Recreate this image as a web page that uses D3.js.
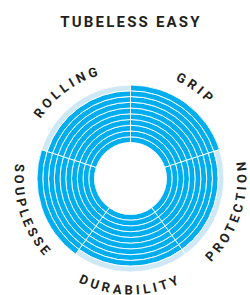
<!DOCTYPE html>
<html>
<head>
<meta charset="utf-8">
<script src="https://cdn.jsdelivr.net/npm/d3@7"></script>
<style>
  html, body { margin: 0; padding: 0; background: #fff; }
  svg { display: block; }
</style>
</head>
<body>
<svg id="chart" width="250" height="295"></svg>
<script>
const title = "TUBELESS EASY";
const categories = ["GRIP", "PROTECTION", "DURABILITY", "SOUPLESSE", "ROLLING"];
const values = [10, 9, 9, 10, 9];
const maxValue = 10;

const width = 250;
const height = 295;
const cx = 130.5;
const cy = 178.5;
const innerR = 36;
const outerR = 93.5;

const blue = "#00adef";
const light = "#cfe8f6";
const ink = "#231f20";

const svg = d3.select("#chart");

// Title
svg.append("text")
  .attr("x", 131)
  .attr("y", 27)
  .attr("text-anchor", "middle")
  .attr("font-family", "Roboto, sans-serif")
  .attr("font-weight", 700)
  .attr("font-size", 15)
  .attr("letter-spacing", 2.2)
  .attr("fill", ink)
  .text(title);

const angle = d3.scaleBand().domain(categories).range([0, 2 * Math.PI]);
const radius = d3.scaleLinear().domain([0, maxValue]).range([innerR, outerR]);

const g = svg.append("g").attr("transform", `translate(${cx},${cy})`);

// One cell per sector and ring
const cells = [];
categories.forEach((c, i) => {
  d3.range(maxValue).forEach((k) => {
    cells.push({ cat: c, ring: k, filled: k < values[i] });
  });
});

const arc = d3.arc()
  .startAngle((d) => angle(d.cat))
  .endAngle((d) => angle(d.cat) + angle.bandwidth())
  .innerRadius((d) => radius(d.ring))
  .outerRadius((d) => radius(d.ring + 1));

g.selectAll("path.cell")
  .data(cells)
  .join("path")
  .attr("class", "cell")
  .attr("d", arc)
  .attr("fill", (d) => (d.filled ? blue : light))
  .attr("stroke", "#fff")
  .attr("stroke-width", 0.9);

// Curved labels: top half reads clockwise, bottom half reads upright
const defs = svg.append("defs");
function labelPath(mid, r, inward) {
  const span = Math.PI / 2.5;
  const a0 = mid - span, a1 = mid + span;
  const p = (a) => [r * Math.sin(a), -r * Math.cos(a)];
  if (!inward) {
    const [x0, y0] = p(a0), [x1, y1] = p(a1);
    return `M${x0},${y0}A${r},${r} 0 0,1 ${x1},${y1}`;
  }
  const [x0, y0] = p(a1), [x1, y1] = p(a0);
  return `M${x0},${y0}A${r},${r} 0 0,0 ${x1},${y1}`;
}

categories.forEach((c, i) => {
  const mid = angle(c) + angle.bandwidth() / 2;
  const inward = mid > Math.PI / 2 && mid < 3 * Math.PI / 2;
  const r = inward ? 116 : 108;
  defs.append("path")
    .attr("id", "lbl" + i)
    .attr("d", labelPath(mid, r, inward))
    .attr("transform", `translate(${cx},${cy})`);
  svg.append("text")
    .attr("font-family", "Roboto, sans-serif")
    .attr("font-weight", 700)
    .attr("font-size", 13)
    .attr("letter-spacing", 3.5)
    .attr("fill", ink)
    .append("textPath")
    .attr("href", "#lbl" + i)
    .attr("startOffset", "50%")
    .attr("text-anchor", "middle")
    .text(c);
});
</script>
</body>
</html>
